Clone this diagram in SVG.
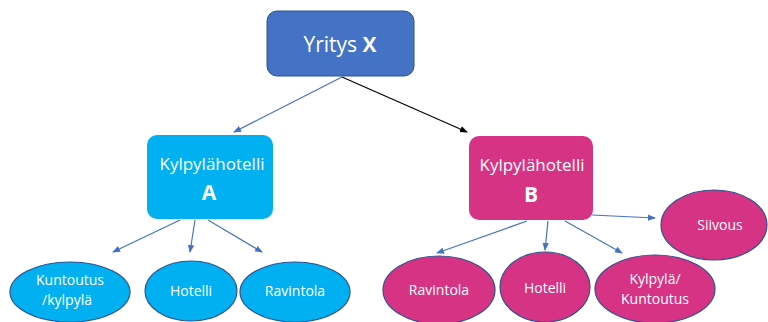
<svg xmlns="http://www.w3.org/2000/svg" width="768" height="322" viewBox="0 0 768 322">
<defs>
<marker id="ab" markerWidth="8" markerHeight="8" refX="7" refY="4" orient="auto" markerUnits="userSpaceOnUse"><path d="M0,0.8 L8,4 L0,7.2 Z" fill="#4472C4"/></marker>
<marker id="ak" markerWidth="8" markerHeight="8" refX="7" refY="4" orient="auto" markerUnits="userSpaceOnUse"><path d="M0,0.8 L8,4 L0,7.2 Z" fill="#000"/></marker>
</defs>
<style>
text{font-family:"Open Sans","Noto Sans","Liberation Sans",sans-serif;fill:#fff;text-anchor:middle}
.l{font-size:14px}
.b{font-weight:bold}
.blue{stroke:#4472C4;stroke-width:1.2;fill:none;marker-end:url(#ab)}
.blk{stroke:#000;stroke-width:1.2;fill:none;marker-end:url(#ak)}
.ca{fill:#00B0F0}
.cb{fill:#D63384}
.e{stroke:#2F528F;stroke-width:1.2}
</style>
<rect width="768" height="322" fill="#fff"/>
<g id="connectors">
<line class="blue" x1="342" y1="77" x2="234" y2="132"/>
<line class="blk" x1="342" y1="77" x2="467" y2="132"/>
<line class="blue" x1="180" y1="220" x2="113" y2="252"/>
<line class="blue" x1="195" y1="220" x2="190" y2="252"/>
<line class="blue" x1="208" y1="220" x2="262" y2="252"/>
<line class="blue" x1="527" y1="221" x2="437" y2="253"/>
<line class="blue" x1="548" y1="221" x2="545" y2="250"/>
<line class="blue" x1="565" y1="221" x2="622" y2="253"/>
<line class="blue" x1="592" y1="215" x2="655" y2="218"/>
</g>
<g id="yritys">
<rect x="267" y="11" width="147" height="65" rx="10" fill="#4472C4" stroke="#2F528F" stroke-width="1"/>
<text x="340" y="52" font-size="21">Yritys <tspan class="b">X</tspan></text>
</g>
<g id="hotelliA">
<rect x="147" y="135" width="126" height="84" rx="10" class="ca"/>
<text x="212" y="170" font-size="17">Kylpylähotelli</text>
<text x="209" y="200" font-size="21" class="b">A</text>
</g>
<g id="hotelliB">
<rect x="469" y="136" width="124" height="84" rx="10" class="cb"/>
<text x="532" y="171" font-size="17">Kylpylähotelli</text>
<text x="531" y="202" font-size="21" class="b">B</text>
</g>
<g id="a-kuntoutus">
<ellipse cx="70" cy="292" rx="60" ry="30" class="ca e"/>
<text x="70" y="285" class="l">Kuntoutus</text>
<text x="67" y="305" class="l">/kylpylä</text>
</g>
<g id="a-hotelli">
<ellipse cx="191" cy="291" rx="46" ry="30" class="ca e"/>
<text x="191" y="296" class="l">Hotelli</text>
</g>
<g id="a-ravintola">
<ellipse cx="295" cy="292" rx="55" ry="30" class="ca e"/>
<text x="295" y="296" class="l">Ravintola</text>
</g>
<g id="b-ravintola">
<ellipse cx="439" cy="290" rx="56" ry="34" class="cb e"/>
<text x="439" y="295" class="l">Ravintola</text>
</g>
<g id="b-hotelli">
<ellipse cx="545" cy="287" rx="45" ry="35" class="cb e"/>
<text x="545" y="293" class="l">Hotelli</text>
</g>
<g id="b-kylpyla">
<ellipse cx="655" cy="289" rx="60" ry="34" class="cb e"/>
<text x="655" y="284" class="l">Kylpylä/</text>
<text x="655" y="304" class="l">Kuntoutus</text>
</g>
<g id="b-siivous">
<ellipse cx="714" cy="225" rx="53" ry="35" class="cb e"/>
<text x="720" y="230" class="l">Siivous</text>
</g>
</svg>
